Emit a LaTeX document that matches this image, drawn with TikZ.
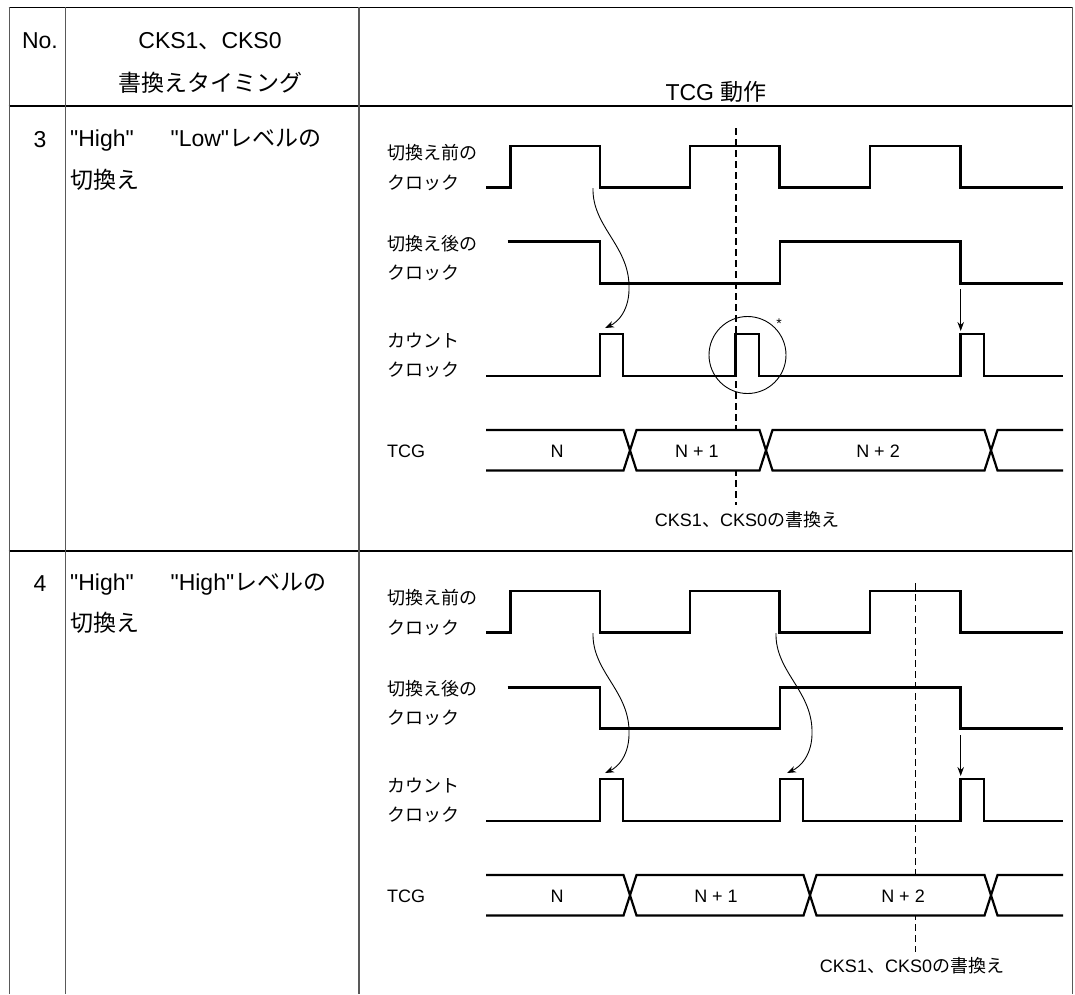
\documentclass[tikz,border=0pt]{standalone}
\usepackage{fontspec}
\setmainfont{Liberation Sans}[Ligatures=TeXOff]
\newfontfamily\jpfont{Noto Sans CJK JP}
\usetikzlibrary{arrows.meta}
\newcommand{\jtxt}[1]{{\jpfont #1}}
\begin{document}
\begin{tikzpicture}[x=1pt,y=-1pt,
  hln/.style={line width=1.2pt, draw=black},
  vln/.style={line width=1.5pt, draw=black!65},
  wave/.style={line width=2.5pt, line join=miter, line cap=butt},
  bus/.style={line width=2.2pt, line join=miter},
  busfill/.style={fill=white, draw=none},
  conn/.style={line width=0.9pt, -{Stealth[length=9pt,width=6.5pt]}},
  guide/.style={line width=1.1pt, dash pattern=on 7pt off 4pt},
  big/.style={font=\fontsize{23}{27}\selectfont, inner sep=0pt},
  bigw/.style={big, anchor=west},
  lab/.style={font=\fontsize{18}{21}\selectfont, inner sep=0pt, anchor=west},
  mid/.style={font=\fontsize{18}{21}\selectfont, inner sep=0pt},
  ring/.style={line width=0.9pt}
]
\useasboundingbox (0,0) rectangle (1075,994);
\fill[white] (0,0) rectangle (1075,994);

% ---------------- table grid
\draw[hln] (8.5,7.3) -- (1073,7.3);
\draw[hln] (8.5,106) -- (1073,106);
\draw[hln] (8.5,551) -- (1073,551);
\foreach \xx in {9.3,65.7,359,1072.7}
  \draw[vln] (\xx,7.3) -- (\xx,994);

% ---------------- header
\node[big] (hno) at (40,41) {No.};
\node[big] (hcks) at (210,41) {CKS1\jtxt{、}CKS0};
\node[big] (htim) at (210,83) {\jtxt{書換えタイミング}};
\node[big] (htcg) at (716,92) {TCG \jtxt{動作}};

% ---------------- row labels
\node[big] (n3) at (40,140) {3};
\node[bigw] (r3a) at (70,140) {"High"\hspace{1.6em}"Low"\jtxt{レベルの}};
\node[bigw] (r3b) at (70,180) {\jtxt{切換え}};
\node[big] (n4) at (40,584) {4};
\node[bigw] (r4a) at (70,584) {"High"\hspace{1.6em}"High"\jtxt{レベルの}};
\node[bigw] (r4b) at (70,623) {\jtxt{切換え}};

% ================= ROW 3 =================
\begin{scope}
\node[lab] (b3a) at (387,153) {\jtxt{切換え前の}};
\node[lab] (b3b) at (387,183) {\jtxt{クロック}};
\node[lab] (a3a) at (387,244) {\jtxt{切換え後の}};
\node[lab] (a3b) at (387,273) {\jtxt{クロック}};
\node[lab] (c3a) at (387,341) {\jtxt{カウント}};
\node[lab] (c3b) at (387,370) {\jtxt{クロック}};
\node[lab] (t3) at (387,451) {TCG};

% guide (drawn first, hidden by the bus)
\coordinate (g3t) at (736,128);
\coordinate (g3b) at (736,505);
\draw[guide] (g3t) -- (g3b);

\draw[wave] (486,187.7) -- (510.5,187.7) -- (510.5,146) -- (600,146) -- (600,187.7)
  -- (690,187.7) -- (690,146) -- (779.5,146) -- (779.5,187.7) -- (870,187.7)
  -- (870,146) -- (960.5,146) -- (960.5,187.7) -- (1063,187.7);
\draw[wave] (507.5,241.7) -- (600,241.7) -- (600,283.7) -- (780,283.7) -- (780,241.7)
  -- (960.5,241.7) -- (960.5,283.7) -- (1063,283.7);
\draw[wave] (486,376) -- (600,376) -- (600,334) -- (623,334) -- (623,376)
  -- (735.7,376) -- (735.7,334) -- (759,334) -- (759,376) -- (960.5,376)
  -- (960.5,334) -- (984,334) -- (984,376) -- (1063,376);

% bus
\def\T{430}\def\B{470.5}
\fill[busfill] (486,\T) rectangle (1063,\B);
\draw[bus] (486,\T) -- (623.5,\T) -- (636.5,\B) -- (759.5,\B) -- (772.5,\T) -- (984.5,\T) -- (997.5,\B) -- (1063,\B);
\draw[bus] (486,\B) -- (623.5,\B) -- (636.5,\T) -- (759.5,\T) -- (772.5,\B) -- (984.5,\B) -- (997.5,\T) -- (1063,\T);
\node[mid] (v3n) at (557,451) {N};
\node[mid] (v3n1) at (697,451) {N + 1};
\node[mid] (v3n2) at (878,451) {N + 2};

\node[mid] (w3) at (747,520) {CKS1\jtxt{、}CKS0\jtxt{の書換え}};

% ring
\draw[ring] (747.5,355) circle [radius=38.5pt];
\node[font=\fontsize{14}{16}\selectfont, inner sep=0pt] (ast3) at (779,324) {*};

% arrows
\coordinate (p3s) at (593,188);
\coordinate (p3m) at (629,285);
\coordinate (p3e) at (605,328);
\draw[conn] (p3s) .. controls +(-1,38) and +(-1,-40) .. (p3m) .. controls +(1,25) and +(13,-6) .. (p3e);
\coordinate (q3s) at (960.7,289);
\coordinate (q3e) at (960.7,331);
\draw[conn] (q3s) -- (q3e);
\end{scope}

% ================= ROW 4 =================
\begin{scope}
\node[lab] (b4a) at (387,598) {\jtxt{切換え前の}};
\node[lab] (b4b) at (387,628) {\jtxt{クロック}};
\node[lab] (a4a) at (387,689) {\jtxt{切換え後の}};
\node[lab] (a4b) at (387,718) {\jtxt{クロック}};
\node[lab] (c4a) at (387,786) {\jtxt{カウント}};
\node[lab] (c4b) at (387,815) {\jtxt{クロック}};
\node[lab] (t4) at (387,896) {TCG};

\coordinate (g4t) at (915.5,583);
\coordinate (g4b) at (915.5,952);
\draw[guide] (g4t) -- (g4b);

\draw[wave] (486,632.7) -- (510.5,632.7) -- (510.5,591) -- (600,591) -- (600,632.7)
  -- (690,632.7) -- (690,591) -- (779.5,591) -- (779.5,632.7) -- (870,632.7)
  -- (870,591) -- (960.5,591) -- (960.5,632.7) -- (1063,632.7);
\draw[wave] (507.5,687.7) -- (600,687.7) -- (600,728.7) -- (780,728.7) -- (780,687.7)
  -- (960.5,687.7) -- (960.5,728.7) -- (1063,728.7);
\draw[wave] (486,821) -- (600,821) -- (600,779) -- (623,779) -- (623,821)
  -- (780,821) -- (780,779) -- (803,779) -- (803,821) -- (960.5,821)
  -- (960.5,779) -- (984,779) -- (984,821) -- (1063,821);

\def\T{875}\def\B{915.5}
\fill[busfill] (486,\T) rectangle (1063,\B);
\draw[bus] (486,\T) -- (623.5,\T) -- (636.5,\B) -- (803.5,\B) -- (816.5,\T) -- (984.5,\T) -- (997.5,\B) -- (1063,\B);
\draw[bus] (486,\B) -- (623.5,\B) -- (636.5,\T) -- (803.5,\T) -- (816.5,\B) -- (984.5,\B) -- (997.5,\T) -- (1063,\T);
\node[mid] (v4n) at (557,896) {N};
\node[mid] (v4n1) at (716,896) {N + 1};
\node[mid] (v4n2) at (903,896) {N + 2};

\node[mid] (w4) at (912,966) {CKS1\jtxt{、}CKS0\jtxt{の書換え}};

\coordinate (p4s) at (593,633);
\coordinate (p4m) at (629,730);
\coordinate (p4e) at (605,773);
\draw[conn] (p4s) .. controls +(-1,38) and +(-1,-40) .. (p4m) .. controls +(1,25) and +(13,-6) .. (p4e);
\coordinate (r4s) at (776,633);
\coordinate (r4m) at (812,730);
\coordinate (r4e) at (787,773);
\draw[conn] (r4s) .. controls +(-1,38) and +(-1,-40) .. (r4m) .. controls +(1,25) and +(13,-6) .. (r4e);
\coordinate (q4s) at (960.7,735);
\coordinate (q4e) at (960.7,776);
\draw[conn] (q4s) -- (q4e);
\end{scope}
\end{tikzpicture}
\end{document}
